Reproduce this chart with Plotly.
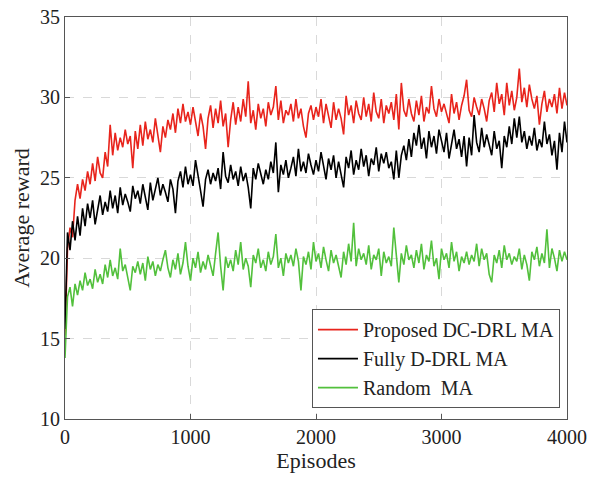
import plotly.graph_objects as go

# Episodes sampled every 20 steps from 0 to 4000
episodes = list(range(0, 4001, 20))

proposed_dc_drl = [
    15.2, 20.6, 21.9, 21.3, 23.6, 24.6, 23.7, 24.9, 24.2, 25.4,
    24.6, 25.9, 24.8, 26.3, 25.3, 25.0, 26.6, 25.7, 28.3, 26.4,
    27.8, 26.7, 27.5, 26.9, 28.0, 27.1, 27.6, 25.6, 27.9, 26.8,
    28.3, 27.0, 28.5, 27.4, 28.0, 27.2, 28.7, 27.6, 26.6, 28.2,
    27.5, 28.6, 28.0, 29.0, 27.8, 29.3, 28.4, 29.6, 28.5, 29.1,
    28.3, 29.4, 28.6, 27.6, 29.0, 28.2, 26.8, 28.7, 29.5, 28.1,
    29.3, 28.4, 29.8, 28.2, 29.0, 26.9, 28.6, 29.7, 28.3, 29.4,
    28.5, 29.9, 28.8, 31.0, 28.4, 29.2, 28.0, 29.6, 28.7, 29.3,
    28.2, 29.7, 28.9, 29.4, 30.7, 28.6, 29.8, 28.4, 29.2, 28.9,
    29.6, 28.5, 29.9, 28.7, 29.3, 28.2, 27.5, 29.0, 29.5, 28.6,
    29.4, 28.8, 29.9, 28.4, 29.6, 28.9, 28.1, 29.7, 28.6, 29.3,
    28.7, 27.7, 30.1, 28.9, 29.5, 28.4, 29.8, 29.0, 28.6, 30.0,
    28.8, 29.6, 28.5, 30.3, 29.1, 28.7, 29.9, 28.4, 29.5, 29.0,
    29.7, 28.6, 30.2, 28.0, 30.9, 29.2, 28.8, 29.9, 29.0, 28.5,
    29.8, 28.9, 30.1, 28.5, 29.4, 29.0, 30.7, 29.3, 28.8, 29.9,
    29.1, 29.6, 28.9, 28.4, 30.2, 29.0, 29.7, 28.6, 29.5, 30.1,
    31.1, 29.2, 28.8, 30.0, 29.4, 28.9, 29.9, 29.3, 28.5, 29.8,
    30.3, 29.1, 30.9, 29.6, 30.2, 28.9, 30.9, 29.5, 30.4, 29.2,
    30.0, 31.8, 29.7, 30.6, 29.4, 30.8, 29.9, 29.3, 30.1, 28.3,
    29.6, 30.4, 29.1, 29.9, 29.4, 30.2, 29.0, 30.6, 29.3, 30.3,
    29.5,
]

fully_d_drl = [
    15.6, 21.6, 20.5, 22.3, 21.1, 22.6, 21.4, 23.1, 22.0, 23.4,
    22.5, 23.6, 22.1, 23.0, 23.9, 22.7, 23.5, 22.9, 24.2, 23.1,
    23.9, 22.8, 24.4, 23.3, 24.0, 23.5, 22.9, 24.5, 23.7, 24.2,
    23.4, 24.6, 23.8, 23.0, 24.7, 23.6, 24.3, 25.0, 23.9, 24.6,
    24.1, 23.5, 24.9, 24.3, 22.8, 24.8, 25.4, 24.4, 25.7, 24.6,
    25.2, 24.5, 26.1, 25.0, 24.2, 23.2, 24.9, 25.5, 24.6, 25.3,
    24.8, 25.6, 24.3, 26.6, 25.1, 24.7, 25.8, 24.9, 25.4, 24.5,
    25.7, 24.8, 25.3, 24.4, 23.1, 25.6, 24.9, 25.9, 25.2, 24.6,
    25.5, 24.9, 26.0, 25.3, 27.2, 24.1, 25.8, 25.2, 26.1, 25.0,
    25.6, 26.3, 25.1, 26.8, 25.4, 26.0, 25.3, 26.5, 25.8, 25.2,
    26.1, 25.4, 26.6, 25.7, 24.9, 26.2, 25.5, 26.4, 25.0, 26.0,
    25.3, 24.4, 26.3, 25.6, 26.7, 25.2, 26.1, 25.5, 26.8, 25.7,
    26.4, 25.1, 26.2, 25.8, 26.9, 25.4, 26.5, 25.9, 26.6, 25.6,
    26.0, 24.9, 26.7, 25.0, 26.4, 27.0, 26.1, 27.4, 26.3, 27.8,
    27.0, 28.3, 26.8, 27.5, 26.2, 27.9, 26.9, 27.6, 26.5, 28.0,
    27.3, 26.6, 27.8, 26.2, 27.1, 28.0, 26.8, 27.4, 26.3, 27.6,
    25.7, 27.5, 26.4, 28.9, 27.2, 26.6, 28.1, 26.9, 27.7, 27.0,
    26.4, 27.9, 26.8, 27.3, 25.6, 27.6, 26.9, 28.2, 27.1, 28.7,
    27.5, 28.8, 27.2, 27.9, 26.8, 27.6, 27.0, 28.1, 26.7, 27.4,
    26.9, 28.5, 27.1, 27.7, 26.4, 27.3, 25.5, 27.8, 26.6, 28.5,
    27.2,
]

random_ma = [
    13.8, 17.6, 18.2, 17.0, 18.4, 17.7, 18.6, 18.0, 19.1, 18.3,
    18.7, 18.1, 19.3, 18.5, 19.0, 18.4, 19.6, 18.8, 19.9, 18.9,
    19.4, 18.7, 20.6, 19.2, 19.6, 18.9, 18.0, 19.5, 19.1, 19.8,
    19.0, 19.7, 18.6, 20.1, 19.3, 19.8, 18.9, 19.6, 19.2, 19.9,
    20.5, 19.4, 18.8, 19.9, 19.3, 20.3, 19.0, 19.7, 21.0, 19.5,
    18.6, 20.0, 19.4, 20.4, 19.1, 19.8, 19.3, 20.2, 19.6, 18.9,
    20.3, 21.6, 19.5, 18.0, 20.1, 19.4, 19.9, 19.2, 20.5, 19.6,
    21.0, 19.3, 20.0, 19.5, 18.2, 20.2, 19.7, 20.6, 19.4, 19.9,
    19.2, 20.4, 19.6, 20.1, 21.5, 19.4, 20.0, 18.9, 20.3, 19.7,
    20.2, 19.5, 20.6, 19.8, 18.0, 20.1, 19.6, 20.4, 19.3, 21.0,
    19.8, 20.3, 19.4, 20.7, 19.9, 19.2, 20.5, 19.7, 20.2, 19.5,
    18.8, 20.4, 19.6, 20.9, 19.8, 22.2, 19.5, 20.6, 19.9, 20.3,
    19.6, 20.8, 19.3, 20.2, 19.9, 20.6, 18.9, 20.4, 19.7, 20.1,
    19.5, 21.9, 20.0, 18.5, 20.3, 19.6, 20.8, 19.9, 20.2, 19.4,
    20.5, 19.7, 20.9, 19.3, 20.2, 19.8, 21.1, 19.5, 20.0, 18.7,
    20.6, 19.9, 20.3, 19.4, 21.0, 19.8, 20.4, 19.2, 20.1, 19.7,
    20.4, 19.6, 20.2, 19.8, 20.9, 19.5, 20.6, 19.9, 20.3, 19.0,
    18.5, 20.2, 19.7, 20.5, 19.4, 20.8, 19.9, 20.3, 19.6, 20.1,
    19.8, 20.6, 19.3, 20.2, 19.6, 18.6, 20.4, 19.9, 20.7, 19.5,
    20.3, 19.7, 21.8, 19.4, 20.6, 20.0, 19.2, 20.5, 19.8, 20.4,
    19.9,
]

x_ticks = [0, 1000, 2000, 3000, 4000]
y_ticks = [10, 15, 20, 25, 30, 35]

series = [
    ("Proposed DC-DRL MA", proposed_dc_drl, "#e8241c"),
    ("Fully D-DRL MA", fully_d_drl, "#000000"),
    ("Random  MA", random_ma, "#52c03c"),
]

fig = go.Figure()
for name, values, color in series:
    fig.add_trace(go.Scatter(
        x=episodes, y=values, mode="lines", name=name,
        line=dict(color=color, width=1.6),
    ))

serif = "Liberation Serif, Times New Roman, serif"
axis_common = dict(
    showline=True, linecolor="#555555", linewidth=1, mirror=True,
    ticks="inside", ticklen=5, tickcolor="#555555",
    showgrid=True, gridcolor="#d9d9d9", griddash="dash", gridwidth=1,
    zeroline=False, automargin=False,
    tickfont=dict(family=serif, size=20, color="#222222"),
)

fig.update_layout(
    width=591, height=477,
    margin=dict(l=65, r=24, t=17, b=58),
    paper_bgcolor="white", plot_bgcolor="white",
    font=dict(family=serif, color="#222222"),
    xaxis=dict(
        range=[0, 4000], tickvals=x_ticks,
        title=dict(text="Episodes", font=dict(family=serif, size=22), standoff=2),
        **axis_common,
    ),
    yaxis=dict(
        range=[10, 35], tickvals=y_ticks,
        title=dict(text="Average reward", font=dict(family=serif, size=22), standoff=4),
        **axis_common,
    ),
    legend=dict(
        x=0.986, y=0.027, xanchor="right", yanchor="bottom",
        bgcolor="white", bordercolor="#555555", borderwidth=1,
        font=dict(family=serif, size=20, color="#222222"),
        tracegroupgap=0, itemwidth=40,
    ),
    showlegend=True,
)

fig.write_html("out.html")
